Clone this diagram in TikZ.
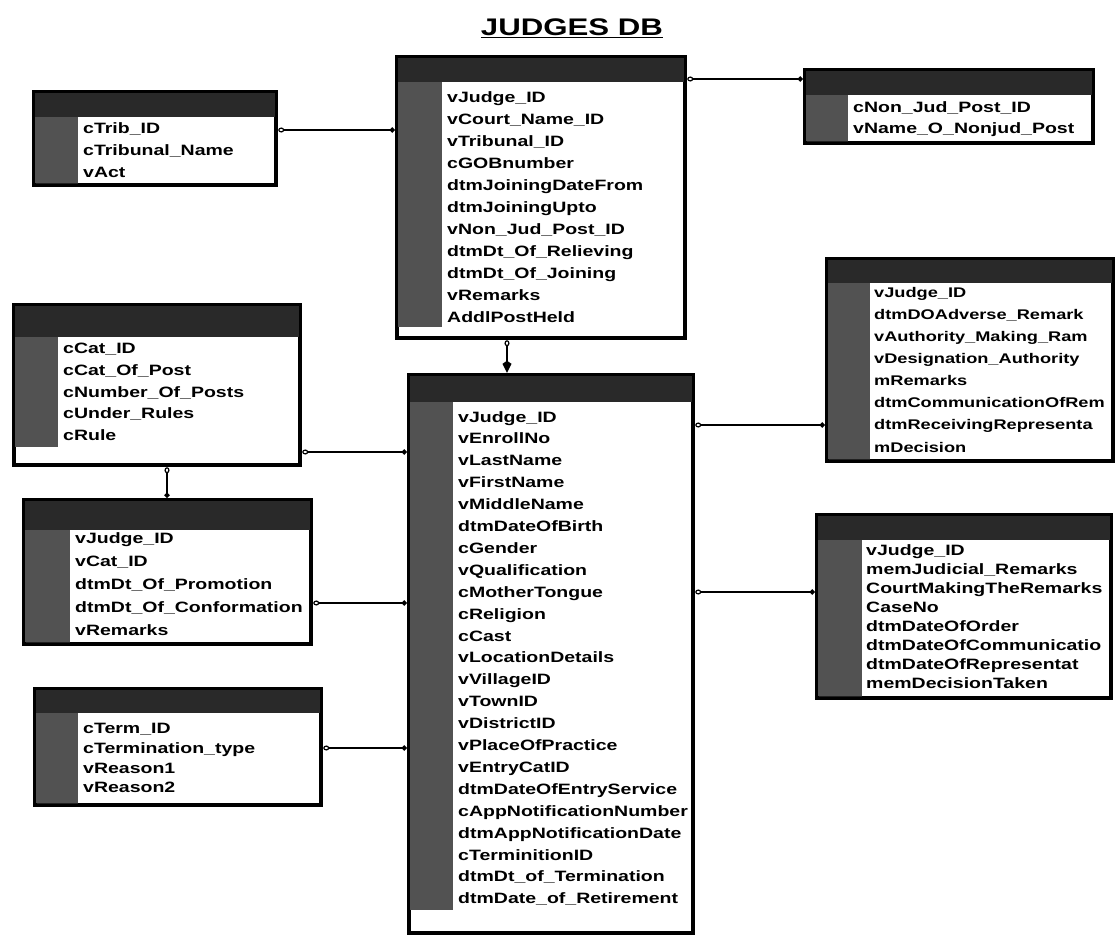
\documentclass[tikz,border=0pt]{standalone}
\usepackage{fontspec}
\usepackage{tikz}
\usetikzlibrary{arrows.meta,fit}
\newfontfamily\erdfont{Liberation Sans}[FakeStretch=1.3]
\definecolor{ERHead}{gray}{0.16}
\definecolor{ERCol}{gray}{0.32}

% table frame: name, x1, y1, x2, y2, header bottom, key column right, key column bottom
\newcommand{\erdtable}[8]{%
  \fill[black] (#2,#3) rectangle (#4,#5);
  \fill[ERHead] (#2+3,#3+3) rectangle (#4-3,#6);
  \fill[ERCol] (#2+3,#6) rectangle (#7,#8);
  \fill[white] (#7,#6) rectangle (#4-4,#5-4);
  \fill[white] (#2+4,#8) rectangle (#7,#5-4);
  \node[fit={(#2,#3) (#4,#5)}, inner sep=0pt] (#1) {};
}

\begin{document}
\begin{tikzpicture}[
  x=1pt, y=-1pt,
  fields/.style={anchor=north west, inner sep=0pt, align=left, font=\erdfont\bfseries\fontsize{15}{#1}\selectfont},
  fields/.default=22,
  heading/.style={font=\erdfont\bfseries\fontsize{24}{28}\selectfont},
  link/.style={line width=2pt, {Circle[open,length=6pt,width=5pt,line width=1.2pt]}-{Circle[length=5pt]}},
  drop/.style={line width=2pt, {Circle[open,length=6pt,width=5pt,line width=1.2pt]}-{Kite[length=12pt,width=9pt]}}
]
\fill[white] (0,0) rectangle (1118,938);
\useasboundingbox (0,0) rectangle (1118,938);

\node[heading] (title) at (572,28) {\underline{JUDGES DB}};

% tables
\erdtable{tribunal}{32}{90}{278}{187}{117}{78}{183}
\erdtable{judgepost}{395}{55}{687}{340}{82}{442}{327}
\erdtable{nonjud}{803}{68}{1095}{145}{95}{848}{141}
\erdtable{category}{12}{303}{302}{467}{337}{58}{447}
\erdtable{promotion}{22}{498}{313}{646}{530}{70}{642}
\erdtable{termination}{33}{687}{323}{807}{713}{78}{803}
\erdtable{judgemain}{407}{373}{695}{935}{402}{453}{910}
\erdtable{remarks}{825}{257}{1115}{463}{283}{870}{459}
\erdtable{judicial}{815}{513}{1113}{700}{540}{862}{696}

% field lists
\node[fields] (tribunal-f) at (83,122) {cTrib\_ID\\cTribunal\_Name\\vAct};
\node[fields] (judgepost-f) at (447,91) {vJudge\_ID\\vCourt\_Name\_ID\\vTribunal\_ID\\cGOBnumber\\dtmJoiningDateFrom\\dtmJoiningUpto\\vNon\_Jud\_Post\_ID\\dtmDt\_Of\_Relieving\\dtmDt\_Of\_Joining\\vRemarks\\AddlPostHeld};
\node[fields=21] (nonjud-f) at (853,101) {cNon\_Jud\_Post\_ID\\vName\_O\_Nonjud\_Post};
\node[fields=21.7] (category-f) at (63,343) {cCat\_ID\\cCat\_Of\_Post\\cNumber\_Of\_Posts\\cUnder\_Rules\\cRule};
\node[fields=23.2] (promotion-f) at (75,532) {vJudge\_ID\\vCat\_ID\\dtmDt\_Of\_Promotion\\dtmDt\_Of\_Conformation\\vRemarks};
\node[fields=19.8] (termination-f) at (83,723) {cTerm\_ID\\cTermination\_type\\vReason1\\vReason2};
\node[fields=21.9] (judgemain-f) at (458,411) {vJudge\_ID\\vEnrollNo\\vLastName\\vFirstName\\vMiddleName\\dtmDateOfBirth\\cGender\\vQualification\\cMotherTongue\\cReligion\\cCast\\vLocationDetails\\vVillageID\\vTownID\\vDistrictID\\vPlaceOfPractice\\vEntryCatID\\dtmDateOfEntryService\\cAppNotificationNumber\\dtmAppNotificationDate\\cTerminitionID\\dtmDt\_of\_Termination\\dtmDate\_of\_Retirement};
\node[fields, font=\erdfont\bfseries\fontsize{14}{22.1}\selectfont] (remarks-f) at (874,287) {vJudge\_ID\\dtmDOAdverse\_Remark\\vAuthority\_Making\_Ram\\vDesignation\_Authority\\mRemarks\\dtmCommunicationOfRem\\dtmReceivingRepresenta\\mDecision};
\node[fields=19] (judicial-f) at (866,544) {vJudge\_ID\\memJudicial\_Remarks\\CourtMakingTheRemarks\\CaseNo\\dtmDateOfOrder\\dtmDateOfCommunicatio\\dtmDateOfRepresentat\\memDecisionTaken};

% relationships
\draw[link] (tribunal.east |- 0,130) -- (judgepost.west |- 0,130);
\draw[link] (judgepost.east |- 0,79) -- (nonjud.west |- 0,79);
\draw[drop] (judgepost.south -| 507,0) -- (judgemain.north -| 507,0);
\draw[link] (category.east |- 0,452) -- (judgemain.west |- 0,452);
\draw[link] (category.south -| 167,0) -- (promotion.north -| 167,0);
\draw[link] (promotion.east |- 0,603) -- (judgemain.west |- 0,603);
\draw[link] (termination.east |- 0,748) -- (judgemain.west |- 0,748);
\draw[link] (judgemain.east |- 0,425) -- (remarks.west |- 0,425);
\draw[link] (judgemain.east |- 0,592) -- (judicial.west |- 0,592);
\end{tikzpicture}
\end{document}
